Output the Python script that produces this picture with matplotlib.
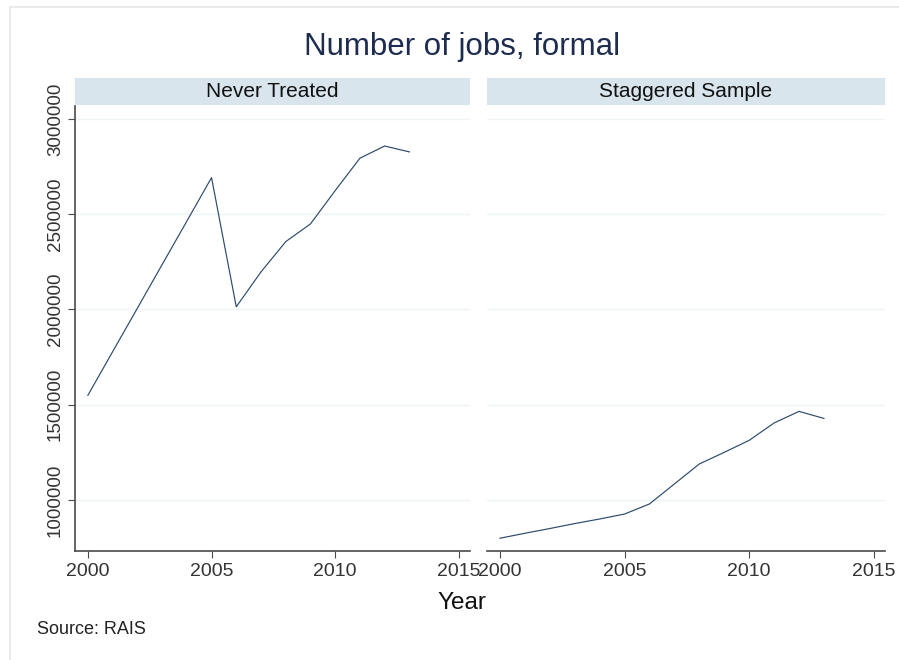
import matplotlib.pyplot as plt
from matplotlib.patches import Rectangle

plt.rcParams['font.family'] = ['Liberation Sans', 'DejaVu Sans']

# Datos
years = [2000, 2001, 2002, 2003, 2004, 2005, 2006, 2007, 2008, 2009, 2010, 2011, 2012, 2013]
never_treated = [1549000, 1778000, 2006000, 2235000, 2463000, 2692000, 2014000,
                 2197000, 2356000, 2449000, 2624000, 2794000, 2858000, 2827000]
staggered = [799000, 825000, 850000, 876000, 900000, 926000, 979000,
             1084000, 1189000, 1250000, 1313000, 1404000, 1465000, 1428000]
panel_titles = ["Never Treated", "Staggered Sample"]
y_ticks = [1000000, 1500000, 2000000, 2500000, 3000000]
x_ticks = [2000, 2005, 2010, 2015]

line_color = '#2c4a6b'
strip_color = '#d9e5ec'
axis_color = '#4a4a4a'
grid_color = '#eef3f4'

W, H = 899, 660
fig = plt.figure(figsize=(W / 100, H / 100), dpi=100)

# marco gris claro de la figura (solo arriba e izquierda visibles)
fig.patches.append(Rectangle((10 / W, -0.1), 1.2, 1.1 - 7 / H, transform=fig.transFigure,
                             fill=False, edgecolor='#e6e6e6', linewidth=1.2))

fig.text(462 / W, 1 - 47 / H, "Number of jobs, formal", ha='center', va='center',
         fontsize=22.5, color='#1e2d4f')

def panel(x0, x1, series, title, show_y):
    ax = fig.add_axes([x0 / W, 1 - 551 / H, (x1 - x0) / W, (551 - 106) / H])
    ax.plot(years, series, color=line_color, linewidth=0.85)
    ax.set_xlim(1999.48, 2015.45)
    ax.set_ylim(732000, 3068000)
    ax.set_xticks(x_ticks)
    ax.set_xticklabels([str(t) for t in x_ticks])
    ax.set_yticks(y_ticks)
    for s in ['top', 'right']:
        ax.spines[s].set_visible(False)
    ax.spines['bottom'].set_color(axis_color)
    ax.spines['bottom'].set_linewidth(1.2)
    if show_y:
        ax.spines['left'].set_color(axis_color)
        ax.spines['left'].set_linewidth(1.2)
        ax.set_yticklabels([str(t) for t in y_ticks], rotation=90, va='center')
        ax.tick_params(axis='y', length=5, color=axis_color, labelsize=13.5,
                       labelcolor='#333333', pad=3)
    else:
        ax.spines['left'].set_visible(False)
        ax.tick_params(axis='y', left=False, labelleft=False)
    ax.tick_params(axis='x', length=5, color=axis_color, labelsize=14,
                   labelcolor='#333333', pad=4)
    ax.grid(axis='y', color=grid_color, linewidth=1)
    ax.set_axisbelow(True)

    strip = fig.add_axes([x0 / W, 1 - 105 / H, (x1 - x0) / W, 27 / H])
    strip.set_facecolor(strip_color)
    strip.set_xticks([])
    strip.set_yticks([])
    for s in strip.spines.values():
        s.set_visible(False)
    strip.text(0.5, 0.5, title, ha='center', va='center', fontsize=15,
               color='#111111', transform=strip.transAxes)
    return ax

panel(75, 470, never_treated, panel_titles[0], True)
panel(487, 885, staggered, panel_titles[1], False)

fig.text(462 / W, 1 - 603 / H, "Year", ha='center', va='center', fontsize=17.5,
         color='#111111')
fig.text(37 / W, 1 - 630 / H, "Source: RAIS", ha='left', va='center', fontsize=13,
         color='#222222')

fig.savefig('out.png', dpi=100)
